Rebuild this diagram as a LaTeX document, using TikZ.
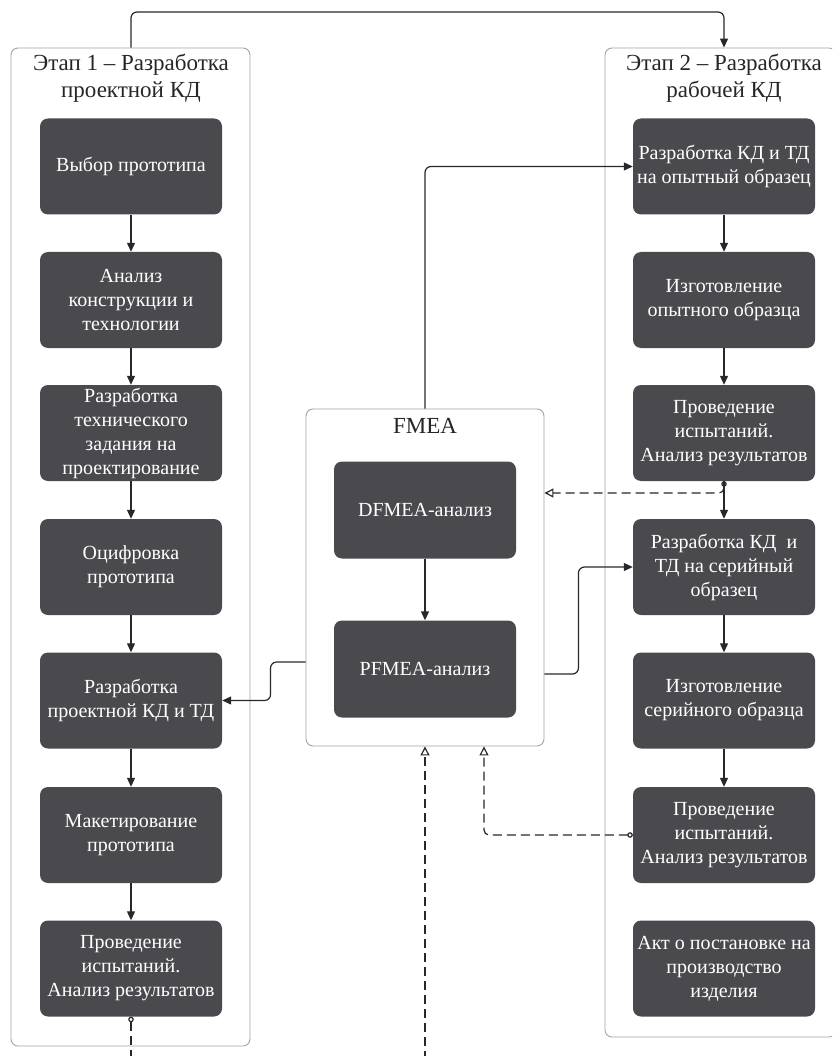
\documentclass[tikz,border=0pt]{standalone}
\usepackage{fontspec}
\setmainfont{Liberation Serif}
\usetikzlibrary{arrows.meta}
\definecolor{boxgray}{RGB}{74,73,78}
\definecolor{framegray}{RGB}{162,162,168}
\definecolor{linegray}{RGB}{40,40,43}

\begin{document}
\begin{tikzpicture}[x=1pt,y=-1pt,
    stagebox/.style={draw=framegray,line width=0.9pt,rounded corners=7pt},
    task/.style={fill=boxgray,text=white,rounded corners=8pt,minimum width=182pt,minimum height=96pt,
        align=center,inner sep=2pt,font=\fontsize{20}{24}\selectfont},
    heading/.style={align=center,text=black!85,font=\fontsize{23}{27}\selectfont},
    flow/.style={draw=linegray,line width=1.2pt,rounded corners=6pt,-{Triangle[length=9pt,width=8pt]}},
    dashline/.style={draw=linegray,line width=1.2pt,rounded corners=5pt,dash pattern=on 9pt off 5pt},
    feedback/.style={dashline,{Circle[open,length=5.5pt,width=5.5pt]}-{Triangle[open,length=9pt,width=9pt]}}]
    \useasboundingbox (0,0) rectangle (832,1056);
    \clip (0,0) rectangle (832,1056);

    \node[stagebox,minimum width=239pt,minimum height=998pt] (stage1) at (130.5,547) {};
    \node[stagebox,minimum width=231pt,minimum height=989pt] (stage2) at (720.5,542.5) {};
    \node[stagebox,minimum width=238pt,minimum height=337pt] (fmea) at (425,577.5) {};

    \node[heading] (head1) at (131,78) {Этап 1 – Разработка\\проектной КД};
    \node[heading] (head2) at (724,78) {Этап 2 – Разработка\\рабочей КД};
    \node[heading] (head3) at (425,426) {FMEA};

    \node[task] (l1) at (131,166.5) {Выбор прототипа};
    \node[task] (l2) at (131,300) {Анализ\\конструкции и\\технологии};
    \node[task] (l3) at (131,433) {Разработка\\технического\\задания на\\проектирование};
    \node[task] (l4) at (131,567) {Оцифровка\\прототипа};
    \node[task] (l5) at (131,700.5) {Разработка\\проектной КД и ТД};
    \node[task] (l6) at (131,835) {Макетирование\\прототипа};
    \node[task] (l7) at (131,968.5) {Проведение\\испытаний.\\Анализ результатов};

    \node[task] (r1) at (724,166.5) {Разработка КД и ТД\\на опытный образец};
    \node[task] (r2) at (724,300) {Изготовление\\опытного образца};
    \node[task] (r3) at (724,433) {Проведение\\испытаний.\\Анализ результатов};
    \node[task] (r4) at (724,567) {Разработка КД\ \ и\\ТД на серийный\\образец};
    \node[task] (r5) at (724,700.5) {Изготовление\\серийного образца};
    \node[task] (r6) at (724,835) {Проведение\\испытаний.\\Анализ результатов};
    \node[task] (r7) at (724,968.5) {Акт о постановке на\\производство\\изделия};

    \node[task,minimum height=97pt] (dfmea) at (425,510) {DFMEA-анализ};
    \node[task,minimum height=97pt] (pfmea) at (425,669) {PFMEA-анализ};

    \coordinate (topline) at (0,12);
    \coordinate (bottom) at (0,1060);

    \foreach \a/\b in {l1/l2,l2/l3,l3/l4,l4/l5,l5/l6,l6/l7,r1/r2,r2/r3,r3/r4,r4/r5,r5/r6,dfmea/pfmea}
        \draw[flow] (\a) -- (\b);

    \draw[flow] (l1 |- stage1.north) -- (l1 |- topline) -- (r1 |- topline) -- (r1 |- stage2.north);
    \draw[flow] (fmea.north) |- (r1.west);
    \draw[flow] ([yshift=-84.5pt]fmea.west) -- ++(-35,0) |- (l5.east);
    \draw[flow] ([yshift=-96.5pt]fmea.east) -- ++(34,0) |- (r4.west);

    \draw[feedback] (r3.south) |- ([yshift=84.5pt]fmea.east);
    \draw[feedback] (r6.west) -| ([xshift=59pt]fmea.south);
    \draw[dashline,{Circle[open,length=5.5pt,width=5.5pt]}-] (l7.south) -- (l7 |- bottom);
    \draw[dashline,-{Triangle[open,length=9pt,width=9pt]}] (fmea.south |- bottom) -- (fmea.south);
\end{tikzpicture}
\end{document}
